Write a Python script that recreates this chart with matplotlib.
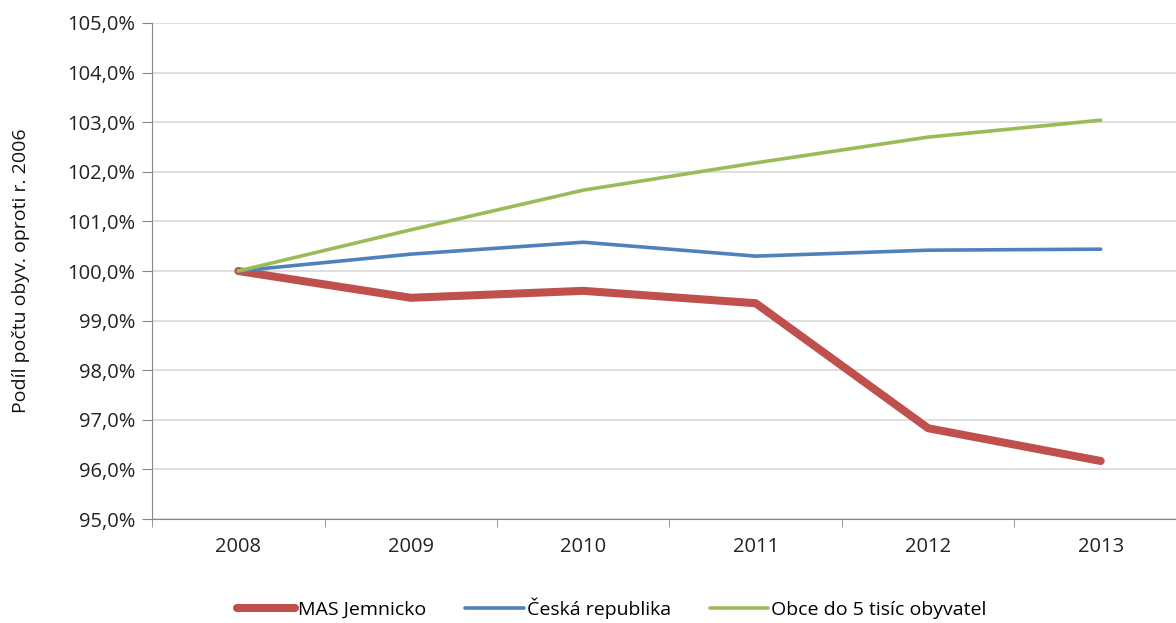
import matplotlib.pyplot as plt
from matplotlib.ticker import FuncFormatter, FixedLocator

plt.rcParams['font.family'] = ['Open Sans', 'DejaVu Sans']

years = ["2008", "2009", "2010", "2011", "2012", "2013"]
mas_jemnicko = [100.0, 99.46, 99.60, 99.35, 96.83, 96.17]
ceska_republika = [100.0, 100.34, 100.58, 100.30, 100.42, 100.44]
obce_do_5_tisic = [100.0, 100.83, 101.63, 102.18, 102.70, 103.04]

labels = ["MAS Jemnicko", "Česká republika", "Obce do 5 tisíc obyvatel"]
colors = ["#C0504D", "#4F81BD", "#9BBB59"]
widths = [5.8, 2.6, 2.6]

fig = plt.figure(figsize=(11.76, 6.23), dpi=100)
ax = fig.add_axes([0.1293, 0.1669, 0.88, 0.7962])

x = range(len(years))
for vals, lab, col, lw in zip([mas_jemnicko, ceska_republika, obce_do_5_tisic], labels, colors, widths):
    ax.plot(x, vals, color=col, lw=lw, label=lab, solid_capstyle='round', solid_joinstyle='round')

ax.set_xlim(-0.5, len(years) - 0.5)
ax.set_ylim(95, 105)
ax.set_yticks(range(95, 106))
ax.yaxis.set_major_formatter(FuncFormatter(lambda v, p: f"{v:.1f}%".replace(".", ",")))
ax.grid(axis='y', color='#D9D9D9', lw=1.2)
ax.set_axisbelow(True)

ax.set_xticks(list(x))
ax.set_xticklabels(years)
ax.xaxis.set_minor_locator(FixedLocator([i - 0.5 for i in range(len(years) + 1)]))
ax.tick_params(axis='x', which='major', length=0, pad=13, labelsize=14.5, colors='#222222')
ax.tick_params(axis='x', which='minor', length=6, color='#868686', direction='out')
ax.tick_params(axis='y', length=7, color='#868686', labelsize=14.5, labelcolor='#222222', pad=5)

for s in ['top', 'right']:
    ax.spines[s].set_visible(False)
for s in ['left', 'bottom']:
    ax.spines[s].set_color('#868686')

ax.set_ylabel("Podíl počtu obyv. oproti r. 2006", fontsize=14, color='#111111')
ax.yaxis.set_label_coords(-0.118, 0.5)

fig.legend(loc='lower center', bbox_to_anchor=(0.52, -0.022), ncol=3, frameon=False,
           fontsize=14, handlelength=3.0, columnspacing=2.0, handletextpad=0.15)

fig.savefig("out.png", dpi=100)
